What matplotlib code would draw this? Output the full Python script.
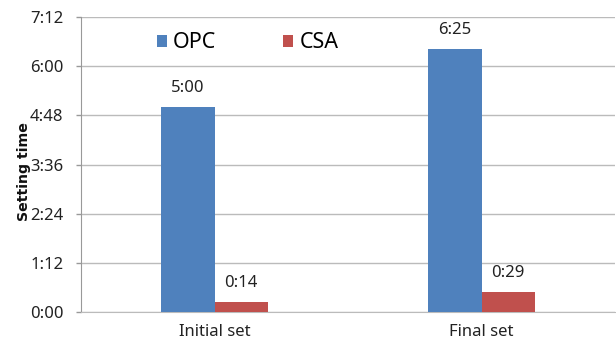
import matplotlib
matplotlib.use("Agg")
import matplotlib.pyplot as plt
from matplotlib.ticker import FuncFormatter, MultipleLocator
from matplotlib.patches import Patch
import numpy as np

plt.rcParams['font.family'] = ['Noto Sans', 'DejaVu Sans']

# Setting times in seconds
categories = ["Initial set", "Final set"]
opc_times = [300, 385]   # 5:00, 6:25
csa_times = [14, 29]     # 0:14, 0:29
series_names = ["OPC", "CSA"]
colors = ["#4F81BD", "#C0504D"]


def mmss(v, pos=None):
    v = int(round(v))
    return f"{v // 60}:{v % 60:02d}"


fig = plt.figure(figsize=(6.16, 3.44), dpi=100)
ax = fig.add_axes([81 / 616, 32 / 344, 534 / 616, 295 / 344])

x = np.arange(len(categories))
w = 0.2
bars_opc = ax.bar(x - w / 2, opc_times, w, color=colors[0], zorder=3)
bars_csa = ax.bar(x + w / 2, csa_times, w, color=colors[1], zorder=3)

for bars in (bars_opc, bars_csa):
    for b in bars:
        h = b.get_height()
        ax.annotate(mmss(h), (b.get_x() + b.get_width() / 2, h),
                    xytext=(0, 14), textcoords="offset points",
                    ha="center", va="center", fontsize=12, color="#222222")

ax.set_xlim(-0.5, 1.5)
ax.set_ylim(0, 432)
ax.yaxis.set_major_locator(MultipleLocator(72))
ax.yaxis.set_major_formatter(FuncFormatter(mmss))
ax.set_xticks(x)
ax.set_xticklabels(categories, fontsize=12)
ax.tick_params(axis="x", length=0, pad=9, colors="#222222")
ax.tick_params(axis="y", length=3.6, width=1, color="#999999", labelsize=12,
               labelcolor="#222222", pad=9)

ax.grid(axis="y", color="#BBBBBB", linewidth=1, zorder=0)
for s in ("top", "right"):
    ax.spines[s].set_visible(False)
ax.spines["left"].set_color("#999999")
ax.spines["bottom"].set_color("#BBBBBB")

ax.set_ylabel("Setting time", fontsize=10.2, fontweight="bold",
              family=["DejaVu Sans"], color="#111111")
ax.yaxis.set_label_coords(-0.094, 0.475)

handles = [Patch(facecolor=c, label=n) for c, n in zip(colors, series_names)]
ax.legend(handles=handles, ncol=2, loc="center left",
          bbox_to_anchor=(0.142, 0.912), borderpad=0, borderaxespad=0,
          frameon=False, fontsize=15.5, handlelength=0.46, handleheight=0.46,
          handletextpad=0.3, columnspacing=3.1)

fig.savefig("out.png", dpi=100)
